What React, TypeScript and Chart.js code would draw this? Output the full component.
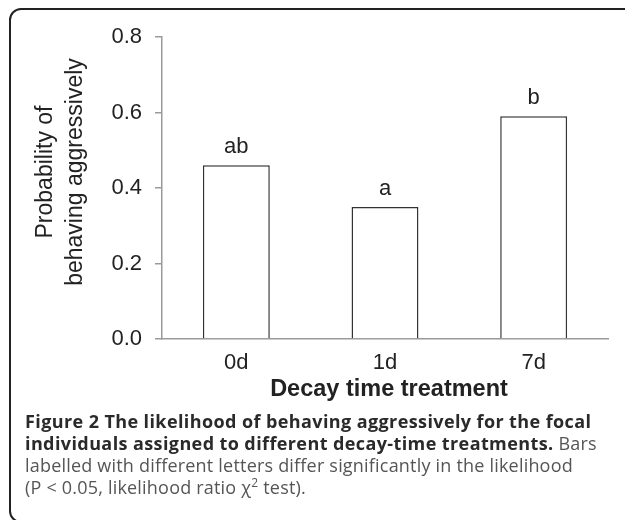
import React, { useEffect, useRef } from "react";
import { Chart, registerables } from "chart.js";

Chart.register(...registerables);

const categories = ["0d", "1d", "7d"];
const probabilities = [0.46, 0.35, 0.59];
const letters = ["ab", "a", "b"];
const yTicks = [0, 0.2, 0.4, 0.6, 0.8];
const yTitleLines = ["Probability of", "behaving aggressively"];
const xTitle = "Decay time treatment";

const FONT = "'Liberation Sans', Arial, sans-serif";

const decorPlugin = {
  id: "decor",
  beforeDraw(chart: any) {
    const ctx = chart.ctx;
    ctx.save();
    ctx.fillStyle = "#ffffff";
    ctx.fillRect(0, 0, chart.width, chart.height);
    ctx.strokeStyle = "#222222";
    ctx.lineWidth = 2;
    ctx.beginPath();
    (ctx as any).roundRect(10, 9, 660, 513, 11);
    ctx.stroke();
    ctx.restore();
  },
  afterDraw(chart: any) {
    const ctx = chart.ctx;
    const area = chart.chartArea;
    ctx.save();
    ctx.fillStyle = "#222222";
    ctx.font = `23px ${FONT}`;
    ctx.textAlign = "center";
    ctx.textBaseline = "middle";
    const cy = 172;
    const xs = [46, 76];
    yTitleLines.forEach((t, i) => {
      ctx.save();
      ctx.translate(xs[i], cy);
      ctx.rotate(-Math.PI / 2);
      ctx.fillText(t, 0, 0);
      ctx.restore();
    });
    ctx.font = `bold 23.5px ${FONT}`;
    ctx.textBaseline = "alphabetic";
    ctx.fillText(xTitle, (area.left + area.right) / 2 + 4, 396);
    ctx.font = `22px ${FONT}`;
    const meta = chart.getDatasetMeta(0);
    meta.data.forEach((el: any, i: number) => {
      ctx.fillText(letters[i], el.x, el.y - 12);
    });
    ctx.restore();
  },
};

function BarChart() {
  const ref = useRef<HTMLCanvasElement | null>(null);
  useEffect(() => {
    if (!ref.current) return;
    const chart = new Chart(ref.current, {
      type: "bar",
      data: {
        labels: categories,
        datasets: [
          {
            data: probabilities,
            backgroundColor: "#ffffff",
            borderColor: "#333333",
            borderWidth: 1.5,
            barPercentage: 0.45,
            categoryPercentage: 1,
          },
        ],
      },
      options: {
        responsive: false,
        animation: false,
        devicePixelRatio: 1,
        layout: { padding: { top: 37, right: 17, left: 0, bottom: 0 } },
        plugins: {
          legend: { display: false },
          tooltip: { enabled: false },
          title: { display: false },
        },
        scales: {
          x: {
            grid: { display: false },
            border: { display: true, color: "#9a9a9a", width: 1.5 },
            ticks: {
              color: "#222222",
              font: { family: FONT, size: 22 },
              padding: 3,
            },
            afterFit: (s: any) => {
              s.height = 181;
            },
          },
          y: {
            min: 0,
            max: 0.8,
            afterBuildTicks: (s: any) => {
              s.ticks = yTicks.map((v) => ({ value: v }));
            },
            ticks: {
              color: "#222222",
              font: { family: FONT, size: 22 },
              padding: 13,
              callback: (v: any) => Number(v).toFixed(1),
            },
            grid: {
              display: true,
              drawOnChartArea: false,
              drawTicks: true,
              tickLength: 7,
              color: "#9a9a9a",
              lineWidth: 1.5,
            },
            border: { display: true, color: "#9a9a9a", width: 1.5 },
            afterFit: (s: any) => {
              s.width = 162;
            },
          },
        },
      },
      plugins: [decorPlugin],
    } as any);
    return () => chart.destroy();
  }, []);
  return (
    <canvas
      ref={ref}
      width={625}
      height={520}
      style={{ position: "absolute", left: 0, top: 0, width: 625, height: 520 }}
    />
  );
}

export default function App() {
  const cap: React.CSSProperties = {
    position: "absolute",
    left: 25,
    top: 410,
    fontFamily: "'Open Sans', sans-serif",
    fontSize: 18,
    lineHeight: "22px",
    color: "#2a2a2a",
    whiteSpace: "nowrap",
  };
  const bold: React.CSSProperties = { fontWeight: 700, letterSpacing: "0.4px" };
  const reg: React.CSSProperties = { color: "#555555", letterSpacing: "0.2px" };
  return (
    <div style={{ position: "fixed", left: 0, top: 0, width: 625, height: 520, background: "#fff" }}>
      <BarChart />
      <div style={cap}>
        <span style={bold}>Figure 2 The likelihood of behaving aggressively for the focal</span>
        <br />
        <span style={bold}>individuals assigned to different decay-time treatments.</span>
        <span style={reg}> Bars</span>
        <br />
        <span style={reg}>labelled with different letters differ significantly in the likelihood</span>
        <br />
        <span style={reg}>
          (P &lt; 0.05, likelihood ratio χ<sup style={{ fontSize: 12, lineHeight: 0 }}>2</sup> test).
        </span>
      </div>
    </div>
  );
}
